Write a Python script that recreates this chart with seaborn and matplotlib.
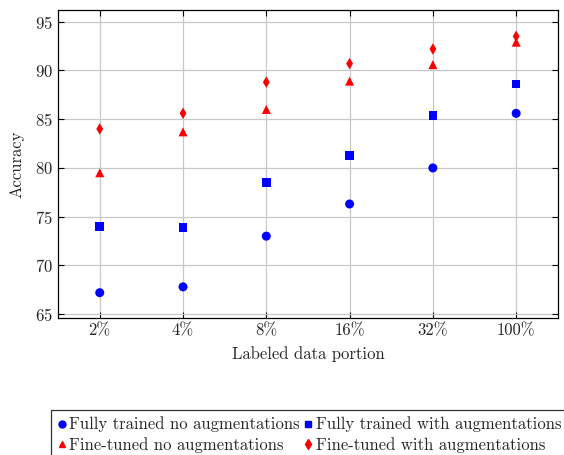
import pandas as pd
import seaborn as sns
import matplotlib.pyplot as plt

portions = ["2%", "4%", "8%", "16%", "32%", "100%"]
full_no_aug = [67.2, 67.8, 73.0, 76.3, 80.0, 85.6]
full_aug = [74.0, 73.9, 78.5, 81.3, 85.4, 88.6]
ft_no_aug = [79.5, 83.7, 86.0, 88.9, 90.6, 92.9]
ft_aug = [84.0, 85.6, 88.8, 90.7, 92.2, 93.5]

series_names = ["Fully trained no augmentations", "Fully trained with augmentations",
                "Fine-tuned no augmentations", "Fine-tuned with augmentations"]
series_vals = [full_no_aug, full_aug, ft_no_aug, ft_aug]
colors = ["#0000ff", "#0000ff", "#ff0000", "#ff0000"]
markers = ["o", "s", "^", "d"]
sizes = [42, 38, 42, 34]

sns.set_style("whitegrid")
plt.rcParams["font.family"] = "serif"
plt.rcParams["font.serif"] = ["cmr10", "DejaVu Serif"]
plt.rcParams["axes.formatter.use_mathtext"] = True
plt.rcParams["mathtext.fontset"] = "cm"

fig = plt.figure(figsize=(5.64, 4.55), dpi=100)
ax = fig.add_axes([0.103, 0.301, 0.886, 0.677])
for name, vals, c, m, s in zip(series_names, series_vals, colors, markers, sizes):
    d = pd.DataFrame({"pos": range(len(vals)), "acc": vals})
    sns.scatterplot(data=d, x="pos", y="acc", color=c, marker=m, s=s,
                    edgecolor="none", ax=ax, zorder=3)

ax.set_xlim(-0.5, 5.5)
ax.set_ylim(64.6, 96.2)
ax.set_xticks(range(len(portions)))
ax.set_xticklabels(portions)
ax.set_yticks([65, 70, 75, 80, 85, 90, 95])
ax.tick_params(direction="in", length=4, color="black", labelsize=12,
               top=True, right=True, bottom=True, left=True)
ax.grid(color="#c8c8c8", linewidth=0.9)
for sp in ax.spines.values():
    sp.set_color("black")
    sp.set_linewidth(0.9)
ax.set_xlabel("Labeled data portion", fontsize=12, labelpad=6)
ax.set_ylabel("Accuracy", fontsize=12, labelpad=8)

handles = [plt.Line2D([], [], linestyle="none", marker=m, color=c, markersize=5)
           for m, c in zip(markers, colors)]
order = [0, 2, 1, 3]
leg = fig.legend([handles[i] for i in order], [series_names[i] for i in order],
                 loc="upper left", bbox_to_anchor=(0.09, 0.099),
                 ncol=2, fontsize=12, frameon=True, fancybox=False,
                 handlelength=0.5, handletextpad=0.2, columnspacing=0.25,
                 labelspacing=0.3, borderpad=0.4, borderaxespad=0)
leg.get_frame().set_edgecolor("black")
leg.get_frame().set_linewidth(0.9)

fig.savefig("out.png", dpi=100)
